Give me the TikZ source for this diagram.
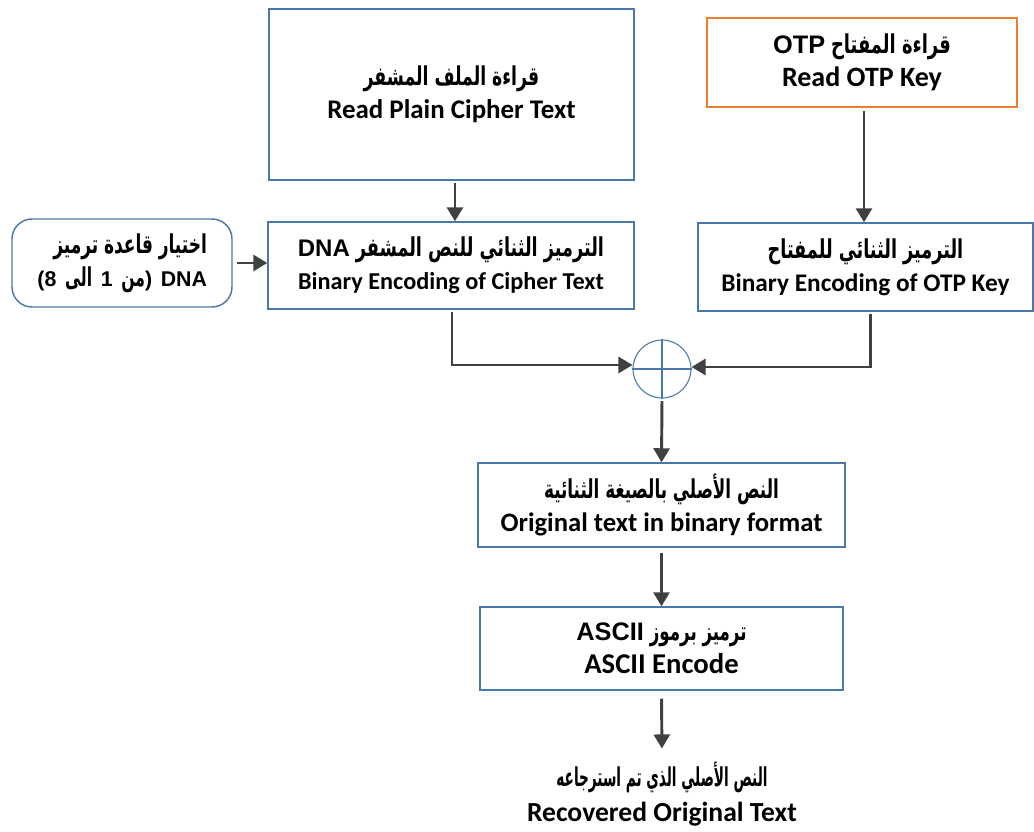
\documentclass[tikz,border=0pt]{standalone}
\usepackage{fontspec}
\usepackage{graphicx}
\setmainfont{Carlito}
\newfontfamily\arabicfont[Script=Arabic]{DejaVu Sans}
\newfontfamily\latinfont{Liberation Sans}
\TeXXeTstate=1
\usetikzlibrary{arrows.meta}
\definecolor{boxblue}{HTML}{4A78A8}
\definecolor{boxorange}{HTML}{ED7D31}
\definecolor{arrowgray}{HTML}{404040}
% Arabic run (right to left), narrowed by the optional factor
\newcommand{\artext}[2][0.7]{\scalebox{#1}[1]{\arabicfont\bfseries\beginR #2\endR}}
% Latin words set inside an Arabic line: size, text
\newcommand{\lattext}[2]{{\fontsize{#1}{#1}\selectfont\latinfont\bfseries #2}}
% English caption line: size, text
\newcommand{\entext}[2]{{\fontsize{#1}{#1}\selectfont\bfseries #2}}
\begin{document}
\begin{tikzpicture}[x=0.75pt,y=-0.75pt,
  stepbox/.style={draw=boxblue, line width=1.1pt, align=center, inner sep=2pt,
    font=\fontsize{19.5}{22}\selectfont},
  flow/.style={draw=arrowgray, line width=2.2pt,
    -{Triangle[length=10.5pt,width=12pt]}, shorten <=2pt},
  xorop/.style={circle, draw=boxblue, line width=0.8pt, minimum size=43.5pt, inner sep=0pt}]
\useasboundingbox (0,0) rectangle (1034,831);

% input boxes
\node[stepbox, minimum width=273.75pt, minimum height=128.25pt] (read) at (451.5,94.5)
  {\artext[0.665]{قراءة الملف المشفر}\\[3pt]\entext{20.2}{Read Plain Cipher Text}};
\node[stepbox, draw=boxorange, line width=1.8pt, minimum width=232.5pt, minimum height=66.75pt] (otp) at (862,62.5)
  {\lattext{19}{OTP} \artext[0.69]{قراءة المفتاح}\\[3pt]\entext{21}{Read OTP Key}};
\node[stepbox, rounded corners=15pt, align=right, minimum width=165pt, minimum height=66pt,
  inner xsep=18.75pt, text width=127.5pt] (dna) at (122,263)
  {\artext[0.655]{اختيار قاعدة ترميز}\\[3pt]\lattext{16}{(8 }\artext[0.6]{الى}\lattext{16}{ 1 }\artext[0.6]{من}\lattext{16}{) DNA}};

% binary encodings
\node[stepbox, minimum width=274.5pt, minimum height=65.25pt] (bincipher) at (451,265.5)
  {\lattext{18}{DNA} \artext[0.68]{الترميز الثنائي للنص المشفر}\\[3pt]\entext{18.2}{Binary Encoding of Cipher Text}};
\node[stepbox, minimum width=251.25pt, minimum height=66pt] (binotp) at (865.5,267)
  {\artext[0.68]{الترميز الثنائي للمفتاح}\\[3pt]\entext{19}{Binary Encoding of OTP Key}};

% XOR operator
\node[xorop] (xor) at (662,369) {};
\draw[boxblue, line width=0.8pt] (xor.north) -- (xor.south) (xor.west) -- (xor.east);

% decoding stages
\node[stepbox, minimum width=275.25pt, minimum height=63pt] (orig) at (661.5,505)
  {\artext[0.645]{النص الأصلي بالصيغة الثنائية}\\[3pt]\entext{20}{Original text in binary format}};
\node[stepbox, minimum width=272.25pt, minimum height=62.25pt] (ascii) at (661.5,648.5)
  {\lattext{19}{ASCII} \artext[0.64]{ترميز برموز}\\[3pt]\entext{21.5}{ASCII Encode}};
\node[align=center, inner sep=0pt, font=\fontsize{19.5}{22}\selectfont] (result) at (662,794)
  {\artext[0.525]{النص الأصلي الذي تم استرجاعه}\\[4pt]\entext{20.7}{Recovered Original Text}};

% connectors
\draw[flow] ([xshift=2.6pt]read.south) -- ([xshift=2.6pt]read.south |- bincipher.north);
\draw[flow, shorten <=3pt] (dna.east) -- (dna.east -| bincipher.west);
\draw[flow] ([xshift=1.5pt]otp.south) -- ([xshift=1.5pt]otp.south |- binotp.north);
\draw[flow] ([xshift=0.75pt]bincipher.south) |- ([yshift=3pt]xor.west);
\draw[flow] ([xshift=3.4pt]binotp.south) |- ([yshift=1.5pt]xor.east);
\draw[flow] (xor.south) -- (orig.north);
\draw[flow] ([yshift=-2pt]orig.south) -- (ascii.north);
\draw[flow, shorten <=6pt, shorten >=10pt] (ascii.south) -- (result.north);
\end{tikzpicture}
\end{document}
